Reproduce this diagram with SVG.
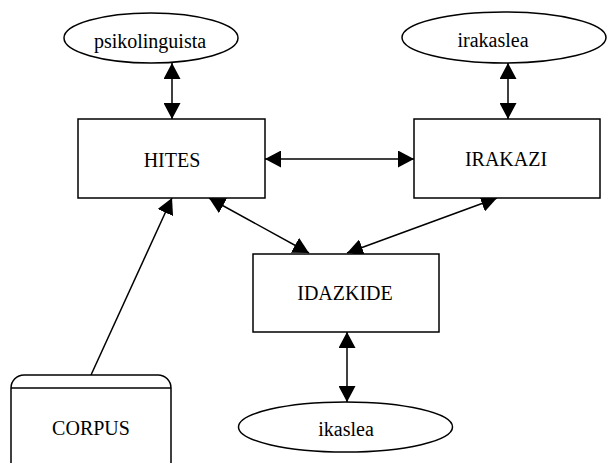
<svg xmlns="http://www.w3.org/2000/svg" width="607" height="463" viewBox="0 0 607 463">
  <style>
    .shape { fill: #ffffff; stroke: #000000; stroke-width: 1.5; }
    .label { font-family: "Liberation Serif", "Times New Roman", serif; font-size: 20px; fill: #000000; text-anchor: middle; }
    .link { stroke: #000000; stroke-width: 1.5; fill: none; }
  </style>
  <defs>
    <marker id="head" viewBox="0 0 16 17" refX="16" refY="8.5" markerWidth="16" markerHeight="17" markerUnits="userSpaceOnUse" orient="auto-start-reverse">
      <path d="M0,0 L16,8.5 L0,17 Z" fill="#000000"/>
    </marker>
  </defs>
  <rect x="0" y="0" width="607" height="463" fill="#ffffff"/>

  <g id="connectors">
    <line class="link" x1="172" y1="63" x2="172" y2="119" marker-start="url(#head)" marker-end="url(#head)"/>
    <line class="link" x1="508" y1="63" x2="508" y2="119" marker-start="url(#head)" marker-end="url(#head)"/>
    <line class="link" x1="265" y1="159" x2="414" y2="159" marker-start="url(#head)" marker-end="url(#head)"/>
    <line class="link" x1="209" y1="198" x2="309" y2="253" marker-start="url(#head)" marker-end="url(#head)"/>
    <line class="link" x1="497" y1="198" x2="347" y2="253" marker-start="url(#head)" marker-end="url(#head)"/>
    <line class="link" x1="347" y1="332" x2="347" y2="402" marker-start="url(#head)" marker-end="url(#head)"/>
    <line class="link" x1="91" y1="375" x2="172" y2="198" marker-end="url(#head)"/>
  </g>

  <g id="psikolinguista">
    <ellipse class="shape" cx="151" cy="38" rx="87" ry="25"/>
    <text class="label" x="150" y="48">psikolinguista</text>
  </g>

  <g id="irakaslea">
    <ellipse class="shape" cx="504" cy="37.5" rx="102" ry="25.5"/>
    <text class="label" x="493" y="47">irakaslea</text>
  </g>

  <g id="hites">
    <rect class="shape" x="78" y="119" width="187" height="79"/>
    <text class="label" x="172" y="167">HITES</text>
  </g>

  <g id="irakazi">
    <rect class="shape" x="414" y="119" width="186" height="79"/>
    <text class="label" x="506" y="166">IRAKAZI</text>
  </g>

  <g id="idazkide">
    <rect class="shape" x="253" y="254" width="186" height="78"/>
    <text class="label" x="345" y="300">IDAZKIDE</text>
  </g>

  <g id="ikaslea">
    <ellipse class="shape" cx="345.5" cy="427" rx="107" ry="25"/>
    <text class="label" x="346" y="436">ikaslea</text>
  </g>

  <g id="corpus">
    <path class="shape" d="M11,475 V388 A13,13 0 0 1 24,375 H158 A13,13 0 0 1 171,388 V475"/>
    <line class="link" x1="11" y1="388" x2="171" y2="388"/>
    <text class="label" x="91" y="435">CORPUS</text>
  </g>
</svg>
